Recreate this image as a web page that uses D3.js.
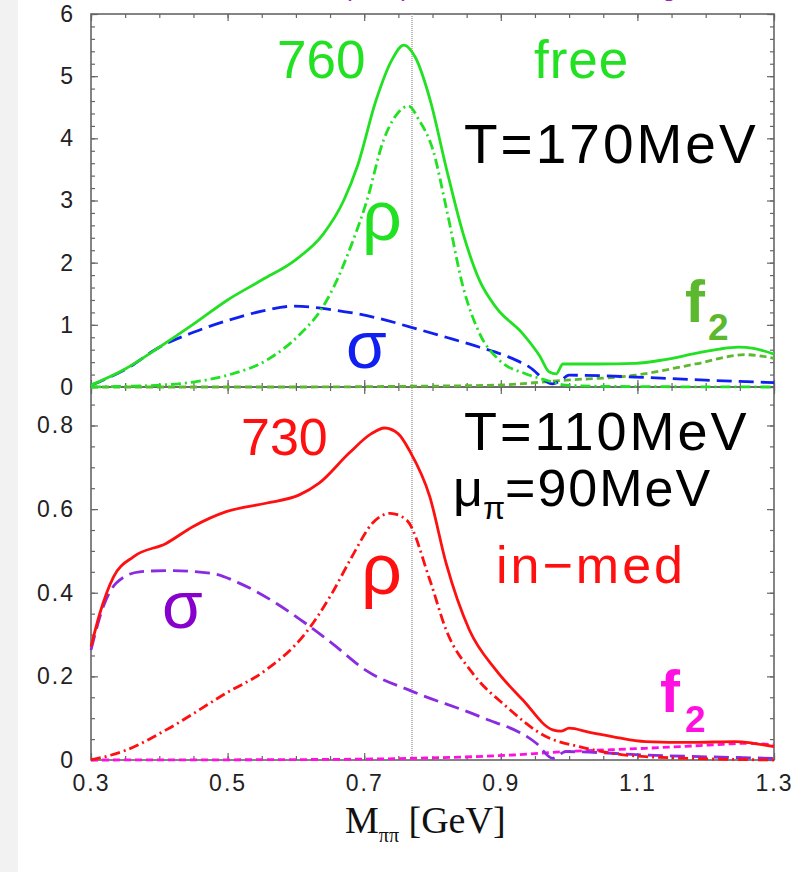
<!DOCTYPE html>
<html>
<head>
<meta charset="utf-8">
<script src="https://cdnjs.cloudflare.com/ajax/libs/d3/7.8.5/d3.min.js"></script>
<style>
  body { margin: 0; background: #fff; }
  svg { display: block; font-family: "Liberation Sans", Arial, Helvetica, sans-serif; }
  .tick text { fill: #222; }
</style>
</head>
<body>
<svg id="chart" width="810" height="872"></svg>
<script>
/* spectral functions, free (upper) and in-medium (lower) */

// x axis
var xTicks = [0.3, 0.5, 0.7, 0.9, 1.1, 1.3];
var xTickLabels = ["0.3", "0.5", "0.7", "0.9", "1.1", "1.3"];
var rhoMass = 0.77;

// upper panel, T=170MeV free
var topTicks = [0, 1, 2, 3, 4, 5, 6];
var topTickLabels = ["0", "1", "2", "3", "4", "5", "6"];
var freeTotal = [[0.30,0.03],[0.35,0.29],[0.40,0.64],[0.45,1.01],[0.50,1.40],[0.55,1.72],[0.60,2.05],
  [0.64,2.46],[0.67,3.00],[0.69,3.55],[0.717,4.60],[0.74,5.25],[0.758,5.50],[0.775,5.30],[0.797,4.60],
  [0.82,3.53],[0.845,2.46],[0.869,1.71],[0.893,1.28],[0.932,0.86],[0.957,0.50],[0.971,0.24],[0.981,0.21],
  [0.991,0.37],[1.04,0.37],[1.097,0.38],[1.14,0.44],[1.185,0.54],[1.22,0.61],[1.248,0.64],[1.27,0.62],[1.30,0.53]];
var freeRho = [[0.30,0.0],[0.35,0.01],[0.40,0.03],[0.45,0.08],[0.50,0.19],[0.557,0.43],[0.607,0.86],
  [0.636,1.23],[0.655,1.60],[0.68,2.25],[0.704,3.00],[0.728,3.96],[0.748,4.39],[0.765,4.52],[0.78,4.30],
  [0.801,3.80],[0.82,2.89],[0.845,1.60],[0.869,0.86],[0.898,0.43],[0.937,0.21],[0.966,0.11],[0.995,0.03],
  [1.05,0.01],[1.30,0.0]];
var freeSigma = [[0.30,0.03],[0.35,0.28],[0.40,0.64],[0.45,0.88],[0.50,1.07],[0.55,1.22],[0.597,1.30],
  [0.655,1.24],[0.723,1.10],[0.769,0.96],[0.82,0.80],[0.869,0.64],[0.912,0.48],[0.942,0.32],[0.976,0.05],
  [0.987,0.10],[1.0,0.19],[1.05,0.18],[1.097,0.16],[1.20,0.11],[1.30,0.07]];
var freeF2 = [[0.30,0.0],[0.60,0.0],[0.75,0.01],[0.892,0.03],[0.995,0.11],[1.097,0.19],[1.185,0.37],
  [1.258,0.52],[1.30,0.46]];

// lower panel, T=110MeV mu=90MeV in-medium
var botTicks = [0, 0.2, 0.4, 0.6, 0.8];
var botTickLabels = ["0", "0.2", "0.4", "0.6", "0.8"];
var medTotal = [[0.30,0.271],[0.313,0.351],[0.333,0.438],[0.362,0.486],[0.41,0.518],[0.449,0.558],
  [0.498,0.594],[0.556,0.614],[0.605,0.634],[0.634,0.662],[0.678,0.734],[0.71,0.78],[0.73,0.794],
  [0.75,0.780],[0.767,0.738],[0.796,0.630],[0.82,0.470],[0.854,0.311],[0.893,0.215],[0.932,0.144],
  [0.976,0.072],[0.988,0.069],[1.0,0.076],[1.03,0.066],[1.063,0.056],[1.112,0.044],[1.18,0.042],
  [1.243,0.044],[1.27,0.040],[1.30,0.032]];
var medRho = [[0.30,0.0],[0.352,0.024],[0.41,0.072],[0.498,0.16],[0.556,0.215],[0.614,0.303],
  [0.653,0.399],[0.682,0.486],[0.712,0.566],[0.738,0.590],[0.762,0.574],[0.796,0.431],[0.82,0.311],
  [0.859,0.207],[0.908,0.128],[0.966,0.056],[1.015,0.032],[1.112,0.008],[1.30,0.0]];
var medSigma = [[0.30,0.263],[0.318,0.367],[0.337,0.423],[0.371,0.450],[0.41,0.453],[0.478,0.446],
  [0.517,0.423],[0.571,0.375],[0.614,0.327],[0.653,0.279],[0.702,0.215],[0.772,0.163],[0.869,0.104],
  [0.952,0.04],[0.976,0.004],[0.995,0.02],[1.112,0.012],[1.30,0.004]];
var medF2 = [[0.30,0.0],[0.60,0.001],[0.77,0.004],[0.918,0.012],[0.995,0.02],[1.112,0.028],
  [1.209,0.036],[1.258,0.04],[1.30,0.036]];

var svg = d3.select("#chart");

// grey strip on the left
svg.append("rect").attr("x", 0).attr("y", 0).attr("width", 18).attr("height", 872).attr("fill", "#f2f2f2");

// cut off title at the very top
svg.append("text").attr("x", 343).attr("y", -4).attr("fill", "#a020c0")
  .attr("font-size", 26).attr("letter-spacing", 14).text("(M)");
svg.append("text").attr("x", 662).attr("y", -4).attr("fill", "#a020c0")
  .attr("font-size", 26).text("g");

var xScale = d3.scaleLinear().domain([0.3, 1.3]).range([91, 774]);
var yTop = d3.scaleLinear().domain([0, 6]).range([387, 14]);
var yBot = d3.scaleLinear().domain([0, 0.892]).range([760, 387]);

var xMinor = d3.range(0.3, 1.3001, 0.05);

function drawFrame(y, majors, minors, labels, showX) {
  var top = y.range()[1], bottom = y.range()[0];
  var g = svg.append("g");

  // bottom and top x ticks
  var bAx = d3.axisBottom(xScale).tickValues(xTicks).tickSize(-7).tickPadding(15)
    .tickFormat(function(d, i) { return showX ? xTickLabels[i] : ""; });
  g.append("g").attr("transform", "translate(0," + bottom + ")").call(bAx);
  g.append("g").attr("transform", "translate(0," + bottom + ")")
    .call(d3.axisBottom(xScale).tickValues(xMinor).tickSize(-4).tickFormat(""));
  g.append("g").attr("transform", "translate(0," + top + ")")
    .call(d3.axisTop(xScale).tickValues(xTicks).tickSize(-7).tickFormat(""));
  g.append("g").attr("transform", "translate(0," + top + ")")
    .call(d3.axisTop(xScale).tickValues(xMinor).tickSize(-4).tickFormat(""));

  // left and right y ticks
  g.append("g").attr("transform", "translate(91,0)")
    .call(d3.axisLeft(y).tickValues(majors).tickSize(-7).tickPadding(16)
      .tickFormat(function(d, i) { return labels[i]; }));
  g.append("g").attr("transform", "translate(91,0)")
    .call(d3.axisLeft(y).tickValues(minors).tickSize(-4).tickFormat(""));
  g.append("g").attr("transform", "translate(774,0)")
    .call(d3.axisRight(y).tickValues(majors).tickSize(-7).tickFormat(""));
  g.append("g").attr("transform", "translate(774,0)")
    .call(d3.axisRight(y).tickValues(minors).tickSize(-4).tickFormat(""));

  g.selectAll(".domain").remove();
  g.selectAll(".tick line").attr("stroke", "#666").attr("stroke-width", 1.2);
  g.selectAll(".tick text").attr("font-size", 23).attr("letter-spacing", 2)
    .attr("font-family", "Liberation Sans, Arial, sans-serif");

  g.append("rect").attr("x", 91).attr("y", top).attr("width", 774 - 91).attr("height", bottom - top)
    .attr("fill", "none").attr("stroke", "#666").attr("stroke-width", 1.6);
}

drawFrame(yTop, topTicks, d3.range(0, 6.001, 0.2), topTickLabels, false);
drawFrame(yBot, botTicks, d3.range(0, 0.8901, 0.05), botTickLabels, true);

// dotted line at the rho mass
svg.append("line").attr("x1", xScale(rhoMass)).attr("x2", xScale(rhoMass))
  .attr("y1", yTop(6)).attr("y2", yBot(0))
  .attr("stroke", "#aaa").attr("stroke-width", 1.6).attr("stroke-dasharray", "1,1");

function drawCurve(data, y, color, dash, width) {
  var line = d3.line()
    .x(function(d) { return xScale(d[0]); })
    .y(function(d) { return y(d[1]); })
    .curve(d3.curveMonotoneX);
  svg.append("path").datum(data).attr("d", line)
    .attr("fill", "none").attr("stroke", color).attr("stroke-width", width || 2.8)
    .attr("stroke-dasharray", dash || null).attr("stroke-linejoin", "round");
}

var green = "#22e022", olive = "#5cb82e", blue = "#1020f0";
var red = "#ff1010", purple = "#8a2be2", magenta = "#ff10e0";

drawCurve(freeF2, yTop, olive, "7,4");
drawCurve(freeSigma, yTop, blue, "15,7");
drawCurve(freeRho, yTop, green, "10,4,2,4");
drawCurve(freeTotal, yTop, green, null);

drawCurve(medF2, yBot, magenta, "7,4");
drawCurve(medSigma, yBot, purple, "15,7");
drawCurve(medRho, yBot, red, "10,4,2,4");
drawCurve(medTotal, yBot, red, null);

// annotations
function label(x, y, txt, color, size, opts) {
  opts = opts || {};
  return svg.append("text").attr("x", x).attr("y", y).attr("fill", color)
    .attr("font-size", size).attr("font-weight", opts.bold ? "bold" : "normal")
    .attr("letter-spacing", opts.ls || 0).text(txt);
}

label(277, 78, "760", green, 53);
label(534, 78, "free", green, 53, {ls: 1});
label(464, 163, "T=170MeV", "#000", 55, {ls: 3});
label(362, 240, "ρ", green, 70);
label(346, 368, "σ", blue, 66);
label(685, 322, "f", olive, 60, {bold: true});
label(708, 340, "2", olive, 37, {bold: true});

label(241, 455, "730", red, 52);
label(464, 450, "T=110MeV", "#000", 54, {ls: 3});
var mu = label(453, 506, "", "#000", 52);
mu.append("tspan").text("μ");
mu.append("tspan").attr("font-size", 32).attr("dy", 13).text("π");
mu.append("tspan").attr("dy", -13).attr("letter-spacing", 2).text("=90MeV");
label(496, 583, "in−med", red, 52, {ls: 3});
label(361, 594, "ρ", red, 72);
label(162, 628, "σ", "#8800cc", 66);
label(660, 712, "f", magenta, 60, {bold: true});
label(685, 732, "2", magenta, 37, {bold: true});

// x axis title
var xt = svg.append("text").attr("x", 345).attr("y", 833)
  .attr("font-family", "Liberation Serif, Times New Roman, serif").attr("font-size", 38).attr("fill", "#111");
xt.append("tspan").text("M");
xt.append("tspan").attr("font-size", 20).attr("dy", 9).text("ππ");
xt.append("tspan").attr("dy", -9).text(" [GeV]");
</script>
</body>
</html>
